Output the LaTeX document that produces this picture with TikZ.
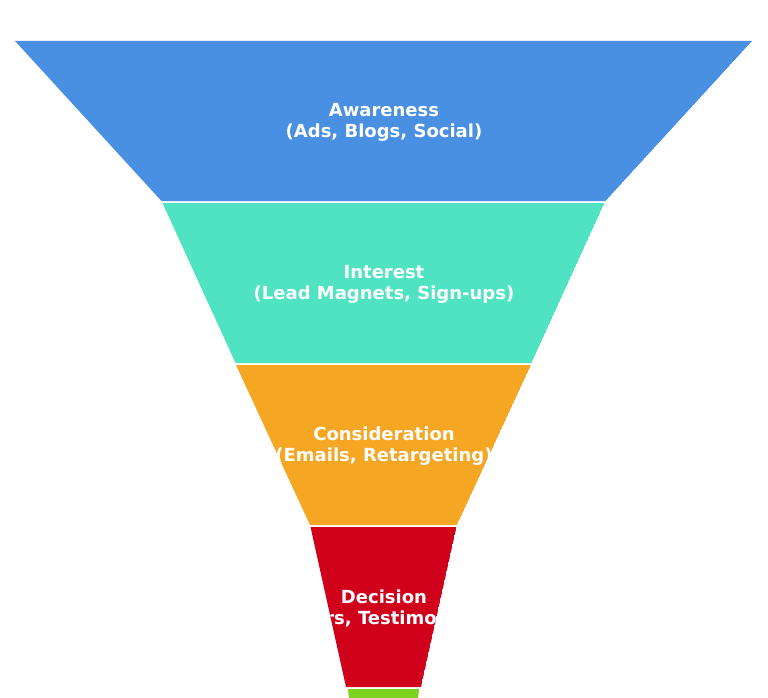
\documentclass[tikz,border=0pt]{standalone}
\usepackage{fontspec}
\setmainfont{DejaVu Sans}
\definecolor{cA}{HTML}{4A90E2}
\definecolor{cB}{HTML}{50E3C2}
\definecolor{cC}{HTML}{F5A623}
\definecolor{cD}{HTML}{D0021B}
\definecolor{cE}{HTML}{7ED321}
\tikzset{
  lbl/.style={text=white, font=\bfseries\fontsize{18}{21}\selectfont, align=center, inner sep=0pt},
}
\begin{document}
\begin{tikzpicture}[x=1pt,y=-1pt]
\useasboundingbox (0,0) rectangle (768,698);
\clip (0,0) rectangle (768,698);
% Level 1
\begin{scope}
\clip (15,41) -- (752,41) -- (605.5,201) -- (161.5,201) -- cycle;
\fill[cA] (15,41) -- (752,41) -- (605.5,201) -- (161.5,201) -- cycle;
\node[lbl] (l1) at (384,122) {Awareness\\(Ads, Blogs, Social)};
\end{scope}
% Level 2
\begin{scope}
\clip (162.5,203) -- (604.5,203) -- (531.5,363) -- (235.5,363) -- cycle;
\fill[cB] (162.5,203) -- (604.5,203) -- (531.5,363) -- (235.5,363) -- cycle;
\node[lbl] (l2) at (384,284) {Interest\\(Lead Magnets, Sign-ups)};
\end{scope}
% Level 3
\begin{scope}
\clip (236,365) -- (531,365) -- (457,525) -- (310,525) -- cycle;
\fill[cC] (236,365) -- (531,365) -- (457,525) -- (310,525) -- cycle;
\node[lbl] (l3) at (384,446) {Consideration\\(Emails, Retargeting)};
\end{scope}
% Level 4
\begin{scope}
\clip (310.5,527) -- (456.5,527) -- (421,687) -- (346,687) -- cycle;
\fill[cD] (310.5,527) -- (456.5,527) -- (421,687) -- (346,687) -- cycle;
\node[lbl] (l4) at (384,608) {Decision\\(Offers, Testimonials)};
\end{scope}
% Level 5
\begin{scope}
\fill[cE] (348,689) -- (419,689) -- (402,849) -- (365,849) -- cycle;
\end{scope}
\end{tikzpicture}
\end{document}
